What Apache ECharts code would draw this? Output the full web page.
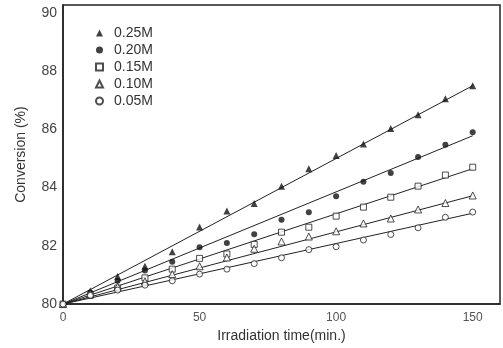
<!DOCTYPE html>
<html>
<head>
<meta charset="utf-8">
<script src="https://cdn.jsdelivr.net/npm/echarts@6/dist/echarts.min.js"></script>
<style>
  html, body { margin: 0; padding: 0; background: #fff; }
  #chart { width: 503px; height: 348px; }
</style>
</head>
<body>
<div id="chart"></div>
<script>
// irradiation time (min.)
const times = [0, 10, 20, 30, 40, 50, 60, 70, 80, 90, 100, 110, 120, 130, 140, 150];

// conversion (%), per concentration
const conv025 = [80, 80.45, 80.95, 81.3, 81.8, 82.65, 83.2, 83.45, 84.05, 84.65, 85.1, 85.5, 86.03, 86.5, 87.05, 87.5];
const conv020 = [80, 80.4, 80.8, 81.15, 81.45, 81.95, 82.1, 82.4, 82.9, 83.15, 83.7, 84.2, 84.5, 85.05, 85.47, 85.9];
const conv015 = [80, 80.3, 80.55, 80.9, 81.2, 81.57, 81.72, 82.05, 82.47, 82.64, 83.02, 83.33, 83.67, 84.05, 84.43, 84.7];
const conv010 = [80, 80.35, 80.6, 80.78, 81.03, 81.3, 81.6, 81.9, 82.15, 82.32, 82.5, 82.77, 82.94, 83.25, 83.47, 83.73];
const conv005 = [80, 80.3, 80.48, 80.65, 80.8, 81.03, 81.2, 81.39, 81.59, 81.87, 81.97, 82.2, 82.39, 82.62, 82.98, 83.16];

// fitted straight lines: start / end (time, conversion)
const fitTimes = [0, 150];
const fit025 = [80, 87.5];
const fit020 = [80, 85.78];
const fit015 = [80, 84.65];
const fit010 = [80, 83.72];
const fit005 = [80, 83.12];

const names = ["0.25M", "0.20M", "0.15M", "0.10M", "0.05M"];

const chart = echarts.init(document.getElementById("chart"));
const font = "'Liberation Sans', Arial, sans-serif";

const pts = (ys) => times.map((t, i) => [t, ys[i]]);
const fit = (ys) => fitTimes.map((t, i) => [t, ys[i]]);

const marks = [
  { data: conv025, fit: fit025, symbol: "triangle", size: 7, filled: true },
  { data: conv020, fit: fit020, symbol: "circle", size: 6, filled: true },
  { data: conv015, fit: fit015, symbol: "rect", size: 6, filled: false },
  { data: conv010, fit: fit010, symbol: "triangle", size: 7, filled: false },
  { data: conv005, fit: fit005, symbol: "circle", size: 6, filled: false },
];

const series = [];
marks.forEach((m, i) => {
  series.push({
    name: names[i] + "-fit",
    type: "line",
    data: fit(m.fit),
    showSymbol: false,
    silent: true,
    lineStyle: { color: "#222", width: 1 },
    z: 2,
  });
  series.push({
    name: names[i],
    type: "scatter",
    data: pts(m.data),
    symbol: m.symbol,
    symbolSize: m.size,
    itemStyle: m.filled
      ? { color: "#111" }
      : { color: "#fff", borderColor: "#222", borderWidth: 1 },
    z: 3,
  });
});

chart.setOption({
  animation: false,
  backgroundColor: "#fff",
  textStyle: { fontFamily: font },
  grid: {
    left: 63, right: 2, top: 5, bottom: 41,
    show: true, borderColor: "#222", borderWidth: 1.5,
  },
  legend: {
    data: names,
    orient: "vertical",
    left: 95,
    top: 26,
    padding: 0,
    itemWidth: 7,
    itemHeight: 7,
    itemGap: 3,
    textStyle: { fontSize: 14, color: "#333", fontFamily: font, padding: [0, 0, 0, 6] },
  },
  xAxis: {
    type: "value",
    min: 0,
    max: 160,
    interval: 50,
    name: "Irradiation time(min.)",
    nameLocation: "middle",
    nameGap: 24,
    nameTextStyle: { fontSize: 14, color: "#333", fontFamily: font },
    axisLine: { lineStyle: { color: "#222", width: 1.5 } },
    axisTick: { show: false },
    splitLine: { show: false },
    axisLabel: {
      fontSize: 12, color: "#555", margin: 8, fontFamily: font,
      formatter: (v) => (v % 50 === 0 ? String(v) : ""),
    },
  },
  yAxis: {
    type: "value",
    min: 80,
    max: 90.27,
    interval: 2,
    name: "Conversion (%)",
    nameLocation: "middle",
    nameRotate: 90,
    nameGap: 35,
    nameTextStyle: { fontSize: 14, color: "#333", fontFamily: font },
    axisLine: { lineStyle: { color: "#222", width: 1.5 } },
    axisTick: { show: false },
    splitLine: { show: false },
    axisLabel: {
      fontSize: 14, color: "#444", margin: 6, fontFamily: font,
      formatter: (v) => (Math.abs(v - Math.round(v)) < 1e-6 && Math.round(v) % 2 === 0 ? String(Math.round(v)) : ""),
    },
  },
  series: series,
});
</script>
</body>
</html>
